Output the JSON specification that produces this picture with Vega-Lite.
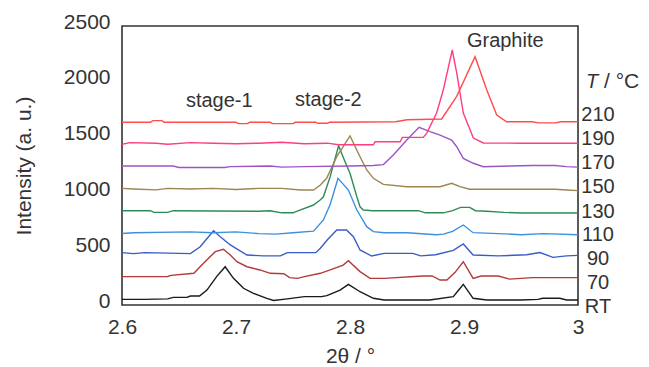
{
  "$schema": "https://vega.github.io/schema/vega-lite/v6.json",
  "width": 456,
  "height": 279,
  "autosize": {"type": "none"},
  "padding": {"left": 122, "top": 26, "right": 71, "bottom": 62},
  "background": "white",
  "config": {
    "font": "Liberation Sans",
    "view": {"stroke": "#333333", "strokeWidth": 1.6},
    "axis": {"domain": false, "grid": false, "ticks": false, "labelFlush": false, "labelColor": "#333333", "titleColor": "#333333", "labelFontSize": 21, "titleFontSize": 21, "titleFontWeight": "normal", "labelFont": "Liberation Sans", "titleFont": "Liberation Sans"},
    "text": {"font": "Liberation Sans", "fontSize": 20, "color": "#333333"}
  },
  "datasets": {
    "curves": [
      {"T": "RT", "x": 2.6, "y": 50}, {"T": "RT", "x": 2.62, "y": 50}, {"T": "RT", "x": 2.64, "y": 55}, {"T": "RT", "x": 2.645, "y": 68}, {"T": "RT", "x": 2.657, "y": 68}, {"T": "RT", "x": 2.66, "y": 80}, {"T": "RT", "x": 2.668, "y": 80}, {"T": "RT", "x": 2.6745, "y": 134}, {"T": "RT", "x": 2.683, "y": 254}, {"T": "RT", "x": 2.6905, "y": 343}, {"T": "RT", "x": 2.6978, "y": 239}, {"T": "RT", "x": 2.7066, "y": 150}, {"T": "RT", "x": 2.7153, "y": 105}, {"T": "RT", "x": 2.727, "y": 60}, {"T": "RT", "x": 2.733, "y": 40}, {"T": "RT", "x": 2.745, "y": 55}, {"T": "RT", "x": 2.76, "y": 75}, {"T": "RT", "x": 2.775, "y": 75}, {"T": "RT", "x": 2.7797, "y": 84}, {"T": "RT", "x": 2.7913, "y": 134}, {"T": "RT", "x": 2.7986, "y": 185}, {"T": "RT", "x": 2.8088, "y": 119}, {"T": "RT", "x": 2.8205, "y": 60}, {"T": "RT", "x": 2.83, "y": 45}, {"T": "RT", "x": 2.87, "y": 45}, {"T": "RT", "x": 2.8906, "y": 75}, {"T": "RT", "x": 2.895, "y": 130}, {"T": "RT", "x": 2.8994, "y": 185}, {"T": "RT", "x": 2.908, "y": 60}, {"T": "RT", "x": 2.92, "y": 45}, {"T": "RT", "x": 2.95, "y": 45}, {"T": "RT", "x": 2.965, "y": 50}, {"T": "RT", "x": 2.969, "y": 60}, {"T": "RT", "x": 2.984, "y": 60}, {"T": "RT", "x": 2.99, "y": 45}, {"T": "RT", "x": 3.0, "y": 45},

      {"T": "70", "x": 2.6, "y": 254}, {"T": "70", "x": 2.64, "y": 256}, {"T": "70", "x": 2.643, "y": 265}, {"T": "70", "x": 2.663, "y": 284}, {"T": "70", "x": 2.6715, "y": 374}, {"T": "70", "x": 2.6818, "y": 478}, {"T": "70", "x": 2.689, "y": 499}, {"T": "70", "x": 2.695, "y": 448}, {"T": "70", "x": 2.7008, "y": 388}, {"T": "70", "x": 2.7096, "y": 343}, {"T": "70", "x": 2.721, "y": 314}, {"T": "70", "x": 2.73, "y": 284}, {"T": "70", "x": 2.742, "y": 280}, {"T": "70", "x": 2.747, "y": 245}, {"T": "70", "x": 2.754, "y": 239}, {"T": "70", "x": 2.76, "y": 254}, {"T": "70", "x": 2.774, "y": 284}, {"T": "70", "x": 2.7826, "y": 314}, {"T": "70", "x": 2.794, "y": 358}, {"T": "70", "x": 2.7986, "y": 397}, {"T": "70", "x": 2.8088, "y": 299}, {"T": "70", "x": 2.8176, "y": 239}, {"T": "70", "x": 2.83, "y": 239}, {"T": "70", "x": 2.864, "y": 260}, {"T": "70", "x": 2.872, "y": 260}, {"T": "70", "x": 2.879, "y": 224}, {"T": "70", "x": 2.885, "y": 224}, {"T": "70", "x": 2.892, "y": 290}, {"T": "70", "x": 2.8994, "y": 388}, {"T": "70", "x": 2.908, "y": 239}, {"T": "70", "x": 2.915, "y": 260}, {"T": "70", "x": 2.93, "y": 260}, {"T": "70", "x": 2.94, "y": 232}, {"T": "70", "x": 2.96, "y": 245}, {"T": "70", "x": 3.0, "y": 245},

      {"T": "90", "x": 2.6, "y": 469}, {"T": "90", "x": 2.61, "y": 460}, {"T": "90", "x": 2.62, "y": 469}, {"T": "90", "x": 2.66, "y": 460}, {"T": "90", "x": 2.6686, "y": 522}, {"T": "90", "x": 2.6803, "y": 665}, {"T": "90", "x": 2.6862, "y": 612}, {"T": "90", "x": 2.695, "y": 538}, {"T": "90", "x": 2.7096, "y": 448}, {"T": "90", "x": 2.724, "y": 440}, {"T": "90", "x": 2.739, "y": 440}, {"T": "90", "x": 2.745, "y": 469}, {"T": "90", "x": 2.77, "y": 469}, {"T": "90", "x": 2.774, "y": 508}, {"T": "90", "x": 2.78, "y": 582}, {"T": "90", "x": 2.7884, "y": 672}, {"T": "90", "x": 2.797, "y": 672}, {"T": "90", "x": 2.803, "y": 612}, {"T": "90", "x": 2.8088, "y": 493}, {"T": "90", "x": 2.819, "y": 439}, {"T": "90", "x": 2.83, "y": 463}, {"T": "90", "x": 2.855, "y": 463}, {"T": "90", "x": 2.862, "y": 440}, {"T": "90", "x": 2.875, "y": 450}, {"T": "90", "x": 2.8906, "y": 490}, {"T": "90", "x": 2.8994, "y": 547}, {"T": "90", "x": 2.908, "y": 448}, {"T": "90", "x": 2.93, "y": 440}, {"T": "90", "x": 2.955, "y": 450}, {"T": "90", "x": 2.9666, "y": 470}, {"T": "90", "x": 2.978, "y": 427}, {"T": "90", "x": 2.99, "y": 440}, {"T": "90", "x": 3.0, "y": 445},

      {"T": "110", "x": 2.6, "y": 640}, {"T": "110", "x": 2.61, "y": 648}, {"T": "110", "x": 2.66, "y": 655}, {"T": "110", "x": 2.68, "y": 648}, {"T": "110", "x": 2.7, "y": 655}, {"T": "110", "x": 2.72, "y": 640}, {"T": "110", "x": 2.735, "y": 635}, {"T": "110", "x": 2.75, "y": 648}, {"T": "110", "x": 2.768, "y": 662}, {"T": "110", "x": 2.7767, "y": 762}, {"T": "110", "x": 2.7826, "y": 900}, {"T": "110", "x": 2.7895, "y": 1135}, {"T": "110", "x": 2.7986, "y": 1030}, {"T": "110", "x": 2.806, "y": 851}, {"T": "110", "x": 2.8147, "y": 702}, {"T": "110", "x": 2.8205, "y": 657}, {"T": "110", "x": 2.83, "y": 648}, {"T": "110", "x": 2.85, "y": 648}, {"T": "110", "x": 2.876, "y": 630}, {"T": "110", "x": 2.882, "y": 635}, {"T": "110", "x": 2.89, "y": 660}, {"T": "110", "x": 2.8994, "y": 717}, {"T": "110", "x": 2.908, "y": 648}, {"T": "110", "x": 2.93, "y": 640}, {"T": "110", "x": 2.95, "y": 630}, {"T": "110", "x": 2.97, "y": 640}, {"T": "110", "x": 3.0, "y": 630},

      {"T": "130", "x": 2.6, "y": 845}, {"T": "130", "x": 2.625, "y": 845}, {"T": "130", "x": 2.628, "y": 830}, {"T": "130", "x": 2.64, "y": 830}, {"T": "130", "x": 2.645, "y": 845}, {"T": "130", "x": 2.72, "y": 840}, {"T": "130", "x": 2.73, "y": 845}, {"T": "130", "x": 2.74, "y": 826}, {"T": "130", "x": 2.75, "y": 826}, {"T": "130", "x": 2.756, "y": 850}, {"T": "130", "x": 2.768, "y": 896}, {"T": "130", "x": 2.7738, "y": 941}, {"T": "130", "x": 2.7767, "y": 970}, {"T": "130", "x": 2.7826, "y": 1150}, {"T": "130", "x": 2.79, "y": 1427}, {"T": "130", "x": 2.795, "y": 1300}, {"T": "130", "x": 2.8, "y": 1180}, {"T": "130", "x": 2.806, "y": 970}, {"T": "130", "x": 2.8088, "y": 880}, {"T": "130", "x": 2.8117, "y": 851}, {"T": "130", "x": 2.82, "y": 845}, {"T": "130", "x": 2.86, "y": 845}, {"T": "130", "x": 2.866, "y": 826}, {"T": "130", "x": 2.882, "y": 826}, {"T": "130", "x": 2.89, "y": 845}, {"T": "130", "x": 2.897, "y": 875}, {"T": "130", "x": 2.905, "y": 875}, {"T": "130", "x": 2.91, "y": 845}, {"T": "130", "x": 2.92, "y": 840}, {"T": "130", "x": 2.935, "y": 830}, {"T": "130", "x": 2.95, "y": 824}, {"T": "130", "x": 3.0, "y": 824},

      {"T": "150", "x": 2.6, "y": 1045}, {"T": "150", "x": 2.61, "y": 1040}, {"T": "150", "x": 2.63, "y": 1032}, {"T": "150", "x": 2.64, "y": 1045}, {"T": "150", "x": 2.66, "y": 1040}, {"T": "150", "x": 2.68, "y": 1045}, {"T": "150", "x": 2.7, "y": 1035}, {"T": "150", "x": 2.72, "y": 1045}, {"T": "150", "x": 2.74, "y": 1045}, {"T": "150", "x": 2.757, "y": 1030}, {"T": "150", "x": 2.768, "y": 1030}, {"T": "150", "x": 2.774, "y": 1075}, {"T": "150", "x": 2.7795, "y": 1135}, {"T": "150", "x": 2.7884, "y": 1329}, {"T": "150", "x": 2.8, "y": 1515}, {"T": "150", "x": 2.8088, "y": 1329}, {"T": "150", "x": 2.8147, "y": 1210}, {"T": "150", "x": 2.8205, "y": 1135}, {"T": "150", "x": 2.8293, "y": 1081}, {"T": "150", "x": 2.8498, "y": 1060}, {"T": "150", "x": 2.879, "y": 1060}, {"T": "150", "x": 2.8892, "y": 1090}, {"T": "150", "x": 2.8965, "y": 1060}, {"T": "150", "x": 2.905, "y": 1037}, {"T": "150", "x": 2.98, "y": 1037}, {"T": "150", "x": 2.99, "y": 1030}, {"T": "150", "x": 3.0, "y": 1025},

      {"T": "170", "x": 2.6, "y": 1245}, {"T": "170", "x": 2.645, "y": 1245}, {"T": "170", "x": 2.65, "y": 1232}, {"T": "170", "x": 2.69, "y": 1232}, {"T": "170", "x": 2.695, "y": 1240}, {"T": "170", "x": 2.73, "y": 1245}, {"T": "170", "x": 2.74, "y": 1235}, {"T": "170", "x": 2.76, "y": 1240}, {"T": "170", "x": 2.8, "y": 1245}, {"T": "170", "x": 2.82, "y": 1250}, {"T": "170", "x": 2.8293, "y": 1258}, {"T": "170", "x": 2.838, "y": 1344}, {"T": "170", "x": 2.8498, "y": 1478}, {"T": "170", "x": 2.8606, "y": 1592}, {"T": "170", "x": 2.8702, "y": 1553}, {"T": "170", "x": 2.879, "y": 1523}, {"T": "170", "x": 2.8892, "y": 1478}, {"T": "170", "x": 2.8936, "y": 1418}, {"T": "170", "x": 2.8994, "y": 1314}, {"T": "170", "x": 2.9082, "y": 1270}, {"T": "170", "x": 2.917, "y": 1239}, {"T": "170", "x": 2.94, "y": 1245}, {"T": "170", "x": 2.96, "y": 1250}, {"T": "170", "x": 2.98, "y": 1250}, {"T": "170", "x": 2.99, "y": 1240}, {"T": "170", "x": 3.0, "y": 1235},

      {"T": "190", "x": 2.6, "y": 1440}, {"T": "190", "x": 2.607, "y": 1455}, {"T": "190", "x": 2.63, "y": 1450}, {"T": "190", "x": 2.64, "y": 1440}, {"T": "190", "x": 2.66, "y": 1455}, {"T": "190", "x": 2.68, "y": 1450}, {"T": "190", "x": 2.7, "y": 1445}, {"T": "190", "x": 2.72, "y": 1450}, {"T": "190", "x": 2.74, "y": 1458}, {"T": "190", "x": 2.76, "y": 1445}, {"T": "190", "x": 2.78, "y": 1450}, {"T": "190", "x": 2.79, "y": 1436}, {"T": "190", "x": 2.8205, "y": 1436}, {"T": "190", "x": 2.822, "y": 1463}, {"T": "190", "x": 2.8439, "y": 1463}, {"T": "190", "x": 2.846, "y": 1502}, {"T": "190", "x": 2.8643, "y": 1502}, {"T": "190", "x": 2.8673, "y": 1540}, {"T": "190", "x": 2.876, "y": 1720}, {"T": "190", "x": 2.8818, "y": 1926}, {"T": "190", "x": 2.8897, "y": 2285}, {"T": "190", "x": 2.8936, "y": 2079}, {"T": "190", "x": 2.8994, "y": 1720}, {"T": "190", "x": 2.9082, "y": 1496}, {"T": "190", "x": 2.917, "y": 1452}, {"T": "190", "x": 2.95, "y": 1450}, {"T": "190", "x": 3.0, "y": 1450},

      {"T": "210", "x": 2.6, "y": 1637}, {"T": "210", "x": 2.625, "y": 1637}, {"T": "210", "x": 2.627, "y": 1652}, {"T": "210", "x": 2.635, "y": 1652}, {"T": "210", "x": 2.637, "y": 1637}, {"T": "210", "x": 2.7, "y": 1637}, {"T": "210", "x": 2.702, "y": 1625}, {"T": "210", "x": 2.71, "y": 1625}, {"T": "210", "x": 2.712, "y": 1637}, {"T": "210", "x": 2.73, "y": 1637}, {"T": "210", "x": 2.732, "y": 1625}, {"T": "210", "x": 2.75, "y": 1625}, {"T": "210", "x": 2.752, "y": 1637}, {"T": "210", "x": 2.77, "y": 1637}, {"T": "210", "x": 2.772, "y": 1628}, {"T": "210", "x": 2.78, "y": 1628}, {"T": "210", "x": 2.782, "y": 1637}, {"T": "210", "x": 2.84, "y": 1642}, {"T": "210", "x": 2.85, "y": 1660}, {"T": "210", "x": 2.8804, "y": 1667}, {"T": "210", "x": 2.8936, "y": 1870}, {"T": "210", "x": 2.9097, "y": 2225}, {"T": "210", "x": 2.92, "y": 1926}, {"T": "210", "x": 2.9287, "y": 1702}, {"T": "210", "x": 2.9374, "y": 1642}, {"T": "210", "x": 2.96, "y": 1642}, {"T": "210", "x": 2.965, "y": 1632}, {"T": "210", "x": 2.98, "y": 1632}, {"T": "210", "x": 2.985, "y": 1642}, {"T": "210", "x": 3.0, "y": 1642}
    ],
    "annotations": [
      {"label": "stage-1", "x": 2.6853, "y": 1830},
      {"label": "stage-2", "x": 2.781, "y": 1835},
      {"label": "Graphite", "x": 2.9362, "y": 2370}
    ],
    "templabels": [
      {"label": "210", "y": 1702},
      {"label": "190", "y": 1485},
      {"label": "170", "y": 1272},
      {"label": "150", "y": 1060},
      {"label": "130", "y": 836},
      {"label": "110", "y": 627},
      {"label": "90", "y": 409},
      {"label": "70", "y": 200},
      {"label": "RT", "y": -15}
    ],
    "unit": [{"label": "T", "y": 2000}]
  },
  "resolve": {"axis": {"x": "independent", "y": "independent"}},
  "layer": [
    {
      "data": {"name": "curves"},
      "mark": {"type": "line", "strokeWidth": 1.4, "clip": true},
      "encoding": {
        "x": {"field": "x", "type": "quantitative", "scale": {"domain": [2.6, 3.0], "nice": false, "zero": false},
          "axis": {"orient": "bottom", "values": [2.6, 2.7, 2.8, 2.9, 3.0], "format": "~g", "labelPadding": 11, "title": "2θ / °", "titlePadding": 8}},
        "y": {"field": "y", "type": "quantitative", "scale": {"domain": [0, 2500], "nice": false, "zero": false},
          "axis": {"orient": "left", "values": [0, 500, 1000, 1500, 2000, 2500], "format": "d", "labelPadding": 12, "labelOffset": -4, "title": "Intensity (a. u.)", "titlePadding": 29}},
        "color": {"field": "T", "type": "nominal", "legend": null,
          "scale": {"domain": ["RT", "70", "90", "110", "130", "150", "170", "190", "210"],
            "range": ["#1a1a1a", "#B23A3A", "#3A5CC8", "#3D8FE0", "#2E8B57", "#9C8550", "#9A55C8", "#FF3D7F", "#FF4C4C"]}}
      }
    },
    {
      "data": {"name": "annotations"},
      "mark": {"type": "text", "align": "center", "baseline": "middle"},
      "encoding": {
        "x": {"field": "x", "type": "quantitative", "axis": null},
        "y": {"field": "y", "type": "quantitative", "axis": null},
        "text": {"field": "label"}
      }
    },
    {
      "data": {"name": "templabels"},
      "mark": {"type": "text", "align": "center", "baseline": "middle", "dx": 20, "clip": false},
      "encoding": {
        "x": {"datum": 3.0, "axis": null},
        "y": {"field": "y", "type": "quantitative", "axis": null},
        "text": {"field": "label"}
      }
    },
    {
      "data": {"name": "unit"},
      "mark": {"type": "text", "align": "left", "baseline": "middle", "dx": 8, "fontStyle": "italic"},
      "encoding": {
        "x": {"datum": 3.0, "axis": null},
        "y": {"field": "y", "type": "quantitative", "axis": null},
        "text": {"field": "label"}
      }
    },
    {
      "data": {"name": "unit"},
      "mark": {"type": "text", "align": "left", "baseline": "middle", "dx": 26, "text": "/ °C", "fontSize": 21},
      "encoding": {
        "x": {"datum": 3.0, "axis": null},
        "y": {"field": "y", "type": "quantitative", "axis": null}
      }
    }
  ]
}
